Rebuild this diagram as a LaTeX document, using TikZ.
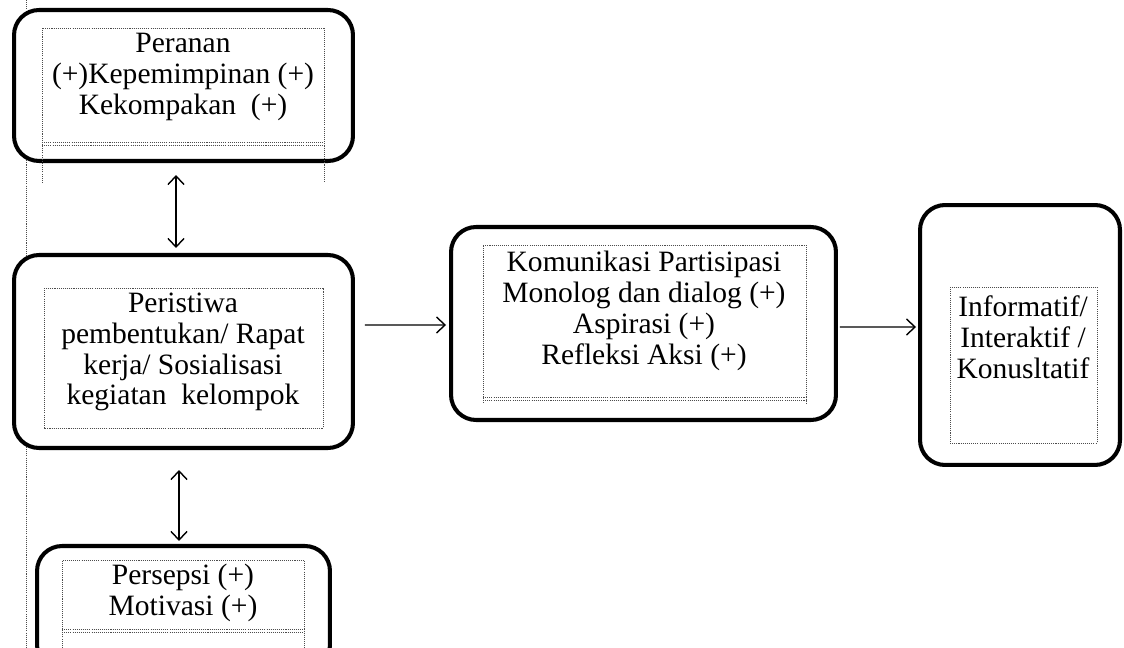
\documentclass[tikz,border=0pt]{standalone}
\usepackage{fontspec}
\setmainfont{Liberation Serif}
\usepackage{tikz}
\usetikzlibrary{arrows.meta}
\usetikzlibrary{positioning}
\tikzstyle{box} = [rectangle, draw, line width=2.3pt, fill=white,
    rounded corners=0.5cm]
\tikzstyle{label} = [align=center, font=\fontsize{16.8}{17.6}\selectfont]
\tikzstyle{frame} = [draw=black!70, line width=0.5pt,
    dash pattern=on 0.6pt off 0.6pt]
\tikzstyle{link} = [draw, line width=0.8pt,
    -{Straight Barb[length=1.7mm,width=3.2mm]}]
\tikzstyle{both} = [draw, line width=0.8pt,
    {Straight Barb[length=1.7mm,width=3.2mm]}-{Straight Barb[length=1.7mm,width=3.2mm]}]

\begin{document}
\begin{tikzpicture}[x=0.02cm, y=-0.02cm]
  \useasboundingbox (0,0) rectangle (1124,648);
  % Guide line
  \draw [frame] (26,0) -- (26,648);
  % Place boxes
  \node [box, minimum width=6.78cm, minimum height=3.02cm] (peran) at (183.5,85.5) {};
  \node [box, minimum width=6.78cm, minimum height=3.86cm] (peristiwa) at (183.5,351.5) {};
  \node [box, minimum width=5.86cm, minimum height=2.48cm] (persepsi) at (183.5,608) {};
  \node [box, minimum width=7.7cm, minimum height=3.86cm] (komunikasi) at (643.5,323.5) {};
  \node [box, minimum width=4cm, minimum height=5.2cm] (informatif) at (1020,335) {};
  % Dotted text frames
  \draw [frame] (42,183) -- (42,28) -- (324,28) -- (324,183);
  \draw [frame] (42,142) -- (324,142) (42,145) -- (324,145);
  \draw [frame] (44,288) rectangle (323,428);
  \draw [frame] (62,648) -- (62,560) -- (304,560) -- (304,648);
  \draw [frame] (62,629) -- (304,629) (62,632) -- (304,632);
  \draw [frame] (483,403) -- (483,245) -- (806,245) -- (806,403);
  \draw [frame] (483,397) -- (806,397) (483,400) -- (806,400);
  \draw [frame] (950,287) rectangle (1097,443);
  % Texts
  \node [label] (peranText) at (183,77) {Peranan\\(+)Kepemimpinan (+)\\Kekompakan~~(+)};
  \node [label] (peristiwaText) at (183,352) {Peristiwa\\pembentukan/ Rapat\\kerja/ Sosialisasi\\kegiatan~~kelompok};
  \node [label] (persepsiText) at (183,593) {Persepsi (+)\\Motivasi (+)};
  \node [label] (komunikasiText) at (644,311) {Komunikasi Partisipasi\\Monolog dan dialog (+)\\Aspirasi (+)\\Refleksi Aksi (+)};
  \node [label] (informatifText) at (1023,337) {Informatif/\\Interaktif /\\Konusltatif};
  % Draw edges
  \path [both] ([xshift=-0.15cm,yshift=-0.24cm]peran.south) -- ([xshift=-0.15cm,yshift=0.1cm]peristiwa.north);
  \path [both] ([xshift=-0.09cm,yshift=-0.4cm]peristiwa.south) -- ([xshift=-0.09cm,yshift=0.06cm]persepsi.north);
  \path [link] ([xshift=0.2cm,yshift=0.53cm]peristiwa.east) -- ([xshift=-0.06cm,yshift=-0.03cm]komunikasi.west);
  \path [link] ([xshift=0.04cm,yshift=-0.07cm]komunikasi.east) -- ([xshift=-0.04cm,yshift=0.16cm]informatif.west);
\end{tikzpicture}
\end{document}
